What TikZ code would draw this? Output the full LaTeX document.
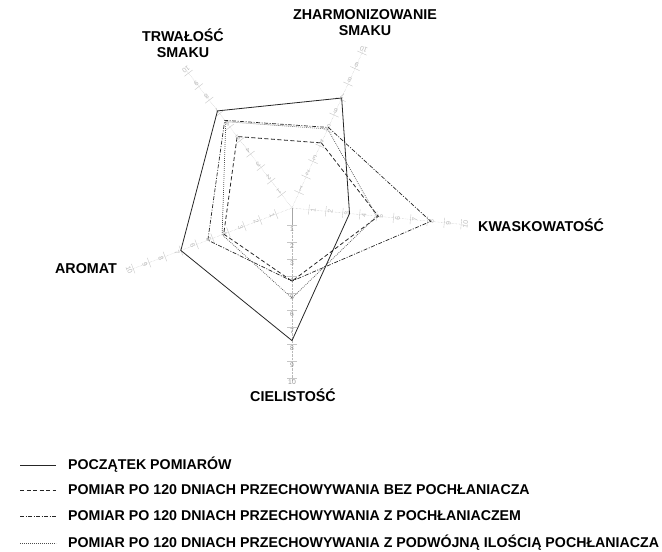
\documentclass[tikz,border=0pt]{standalone}
\usepackage{fontspec}
\setmainfont{Liberation Sans}
\usetikzlibrary{calc}

\tikzset{
  axisline/.style={gray!55, densely dotted, line width=0.4pt},
  axistick/.style={gray!45, line width=0.4pt},
  axisnum/.style={font=\fontsize{6.8}{7.5}\selectfont, inner sep=0.2pt},
  title/.style={font=\fontsize{14.3}{16}\selectfont\bfseries, align=center, inner sep=0pt},
  legtext/.style={font=\fontsize{14.2}{16}\selectfont\bfseries, anchor=west, inner sep=0pt},
  pocz/.style={black!85, line width=0.8pt},
  bezpoch/.style={black!85, line width=0.8pt, dash pattern=on 4pt off 2.5pt},
  zpoch/.style={black!85, line width=0.7pt, dash pattern=on 4pt off 1.5pt on 1pt off 1.5pt},
  podwpoch/.style={black!70, line width=0.7pt, dash pattern=on 0.8pt off 1.2pt},
}

\begin{document}
\begin{tikzpicture}[x=1pt, y=1pt]
  \useasboundingbox (0,0) rectangle (662,552);

  % radar chart, one unit = one point of the scale
  \begin{scope}[shift={(292,344)}, x=17pt, y=17pt]
    \foreach \ang/\nm/\col in {65.7/z/gray!55, -5.5/k/gray!55, -90/c/gray!85, 200.9/a/gray!55, 127.5/t/gray!55} {
      \draw[axisline] (0,0) -- ({\ang}:10.2) coordinate (\nm10);
      \foreach \k in {1,...,10} {
        \draw[axistick] (\ang:\k) ++({\ang+90}:0.3) -- ++({\ang-90}:0.6);
        \node[axisnum, text=\col, rotate=\ang+90] (\nm n\k) at ({\ang}:{\k+0.25}) {\k};
      }
    }
    \draw[gray!70, line width=0.4pt] (0,0) -- (-90:1);

    % series: zharmonizowanie / kwaskowatosc / cielistosc / aromat / trwalosc
    \foreach \sty/\vz/\vk/\vc/\va/\vt in {
      pocz/7.1/3.4/7.8/7.0/7.2,
      bezpoch/4.2/5.1/4.3/4.3/5.3,
      zpoch/5.2/8.2/4.3/5.3/6.5,
      podwpoch/5.1/5.0/5.3/4.4/6.4} {
      \draw[\sty] (65.7:\vz) -- (-5.5:\vk) -- (-90:\vc) -- (200.9:\va) -- (127.5:\vt) -- cycle;
    }
  \end{scope}

  % axis titles
  \node[title] (zharm) at (365,529) {ZHARMONIZOWANIE\\SMAKU};
  \node[title] (trwal) at (183,509) {TRWAŁOŚĆ\\SMAKU};
  \node[title, anchor=west] (kwask) at (478,327) {KWASKOWATOŚĆ};
  \node[title, anchor=east] (aromat) at (117,283) {AROMAT};
  \node[title] (ciel) at (293,157) {CIELISTOŚĆ};

  % legend
  \foreach \y/\sty/\txt [count=\i] in {
    87/pocz/POCZĄTEK POMIARÓW,
    62/bezpoch/POMIAR PO 120 DNIACH PRZECHOWYWANIA BEZ POCHŁANIACZA,
    36/zpoch/POMIAR PO 120 DNIACH PRZECHOWYWANIA Z POCHŁANIACZEM,
    9/podwpoch/POMIAR PO 120 DNIACH PRZECHOWYWANIA Z PODWÓJNĄ ILOŚCIĄ POCHŁANIACZA} {
    \coordinate (ls\i) at (20,\y);
    \coordinate (le\i) at (56,\y);
    \draw[\sty] (ls\i) -- (le\i);
    \node[legtext] (leg\i) at (68,\y) {\txt};
  }
\end{tikzpicture}
\end{document}
